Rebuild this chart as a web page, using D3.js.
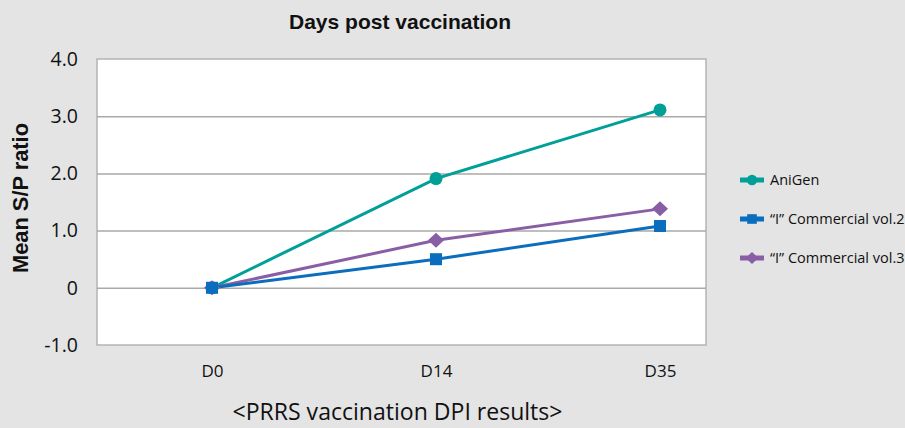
<!DOCTYPE html>
<html><head><meta charset="utf-8">
<script src="https://cdn.jsdelivr.net/npm/d3@7"></script>
<style>body{margin:0;background:#e4e4e4;}svg{display:block;}</style>
</head><body>
<script>
const categories = ["D0", "D14", "D35"];
const seriesNames = ["AniGen", "\u201CI\u201D Commercial vol.2", "\u201CI\u201D Commercial vol.3"];
const aniGen = [0, 1.91, 3.11];
const commercial2 = [0, 0.50, 1.08];
const commercial3 = [0, 0.83, 1.38];
const yTicks = [-1, 0, 1, 2, 3, 4];
const yTickLabels = ["-1.0", "0", "1.0", "2.0", "3.0", "4.0"];

const W = 905, H = 428;
const svg = d3.select("body").append("svg").attr("width", W).attr("height", H);
svg.append("rect").attr("width", W).attr("height", H).attr("fill", "#e4e4e4");

const plot = {l: 97, r: 706, t: 59, b: 345};
const y = d3.scaleLinear().domain([-1, 4]).range([plot.b, plot.t]);
const x = d3.scalePoint().domain(categories).range([212, 660]);
const sansUI = "'Open Sans', 'Noto Sans', sans-serif";

svg.append("rect").attr("x", plot.l).attr("y", plot.t).attr("width", plot.r - plot.l).attr("height", plot.b - plot.t)
  .attr("fill", "#fff").attr("stroke", "#b4b4b4").attr("stroke-width", 1.5);

// gridlines
const gy = svg.append("g").attr("transform", `translate(${plot.l},0)`)
  .call(d3.axisLeft(y).tickValues(yTicks).tickSize(-(plot.r - plot.l)).tickFormat(""));
gy.select(".domain").remove();
gy.selectAll(".tick line").attr("stroke", d => (d === -1 || d === 4) ? "none" : "#a9a9a9").attr("stroke-width", 1.5);

// y labels
const yl = svg.append("g").attr("transform", `translate(${plot.l},0)`)
  .call(d3.axisLeft(y).tickValues(yTicks).tickSize(0).tickPadding(19).tickFormat((d, i) => yTickLabels[i]));
yl.select(".domain").remove();
yl.selectAll("text").attr("font-family", sansUI).attr("font-size", 19.5).attr("fill", "#111");

// x labels
const xl = svg.append("g").attr("transform", `translate(0,${plot.b})`)
  .call(d3.axisBottom(x).tickSize(0).tickPadding(20));
xl.select(".domain").remove();
xl.selectAll("text").attr("font-family", sansUI).attr("font-size", 17).attr("fill", "#111");

// titles
svg.append("text").attr("x", 400).attr("y", 28.5).attr("text-anchor", "middle")
  .attr("font-family", "'Liberation Sans', Arial, sans-serif").attr("font-weight", "bold").attr("font-size", 21)
  .attr("textLength", 222).attr("lengthAdjust", "spacingAndGlyphs")
  .attr("fill", "#111").text("Days post vaccination");
svg.append("text").attr("transform", `translate(28,198) rotate(-90)`).attr("text-anchor", "middle")
  .attr("font-family", "'Liberation Sans', Arial, sans-serif").attr("font-weight", "bold").attr("font-size", 21.5)
  .attr("textLength", 150).attr("lengthAdjust", "spacingAndGlyphs")
  .attr("fill", "#111").text("Mean S/P ratio");
svg.append("text").attr("x", 397.5).attr("y", 420).attr("text-anchor", "middle")
  .attr("font-family", sansUI).attr("font-size", 23)
  .attr("textLength", 330).attr("lengthAdjust", "spacingAndGlyphs")
  .attr("fill", "#111").text("<PRRS vaccination DPI results>");

const diamond = (cx, cy, w, h) => `M${cx - w},${cy}L${cx},${cy - h}L${cx + w},${cy}L${cx},${cy + h}Z`;
const series = [
  {name: seriesNames[0], values: aniGen, color: "#00a099", kind: "circle"},
  {name: seriesNames[2], values: commercial3, color: "#8a5ea5", kind: "diamond"},
  {name: seriesNames[1], values: commercial2, color: "#0b6dbd", kind: "square"}
];
const line = d3.line().x((d, i) => x(categories[i])).y(d => y(d));
series.forEach(s => {
  svg.append("path").datum(s.values).attr("d", line).attr("fill", "none").attr("stroke", s.color).attr("stroke-width", 3);
});
function marker(g, kind, cx, cy, color, scale) {
  if (kind === "circle") g.append("circle").attr("cx", cx).attr("cy", cy).attr("r", 6.5 * scale).attr("fill", color);
  else if (kind === "square") g.append("rect").attr("x", cx - 6 * scale).attr("y", cy - 6 * scale)
    .attr("width", 12 * scale).attr("height", 12 * scale).attr("fill", color);
  else g.append("path").attr("d", diamond(cx, cy, 8 * scale, 7.5 * scale)).attr("fill", color);
}
series.forEach(s => {
  s.values.forEach((v, i) => marker(svg, s.kind, x(categories[i]), y(v), s.color, 1));
});

// legend
const legendOrder = [
  {name: seriesNames[0], color: "#00a099", kind: "circle"},
  {name: seriesNames[1], color: "#0b6dbd", kind: "square"},
  {name: seriesNames[2], color: "#8a5ea5", kind: "diamond"}
];
const legY = [180, 219, 258];
legendOrder.forEach((s, i) => {
  const g = svg.append("g");
  g.append("line").attr("x1", 740).attr("x2", 764).attr("y1", legY[i]).attr("y2", legY[i]).attr("stroke", s.color).attr("stroke-width", 5);
  marker(g, s.kind, 752, legY[i], s.color, 0.8);
  g.append("text").attr("x", 770).attr("y", legY[i] + 5).attr("font-family", sansUI)
    .attr("font-size", 14.5).attr("fill", "#111").text(s.name);
});
</script>
</body></html>
